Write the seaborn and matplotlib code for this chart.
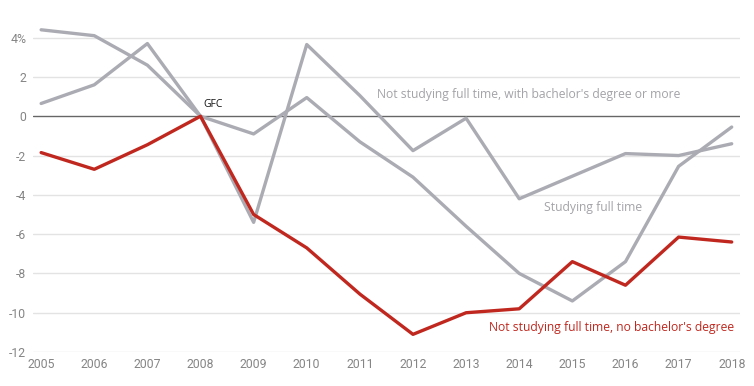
import pandas as pd
import seaborn as sns
import matplotlib.pyplot as plt

# Data (% change since 2008)
years = list(range(2005, 2019))
no_degree = [-1.85, -2.7, -1.45, 0.0, -5.0, -6.7, -9.05, -11.1, -10.0, -9.8, -7.4, -8.6, -6.15, -6.4]
with_degree = [0.65, 1.6, 3.7, 0.0, -5.4, 3.65, 1.05, -1.75, -0.1, -4.2, -3.05, -1.9, -2.0, -1.4]
studying = [4.4, 4.1, 2.6, 0.0, -0.9, 0.95, -1.3, -3.1, -5.6, -8.0, -9.4, -7.4, -2.55, -0.55]

y_ticks = [4, 2, 0, -2, -4, -6, -8, -10, -12]
y_labels = ["4%", "2", "0", "-2", "-4", "-6", "-8", "-10", "-12"]

df = pd.DataFrame({
    "year": years * 3,
    "change": with_degree + studying + no_degree,
    "group": (["Not studying full time, with bachelor's degree or more"] * len(years)
              + ["Studying full time"] * len(years)
              + ["Not studying full time, no bachelor's degree"] * len(years)),
})

sns.set_theme(style="white")
plt.rcParams['font.family'] = ['Roboto', 'DejaVu Sans']

red = "#c0281f"
grey = "#abacb3"
palette = {
    "Not studying full time, with bachelor's degree or more": grey,
    "Studying full time": grey,
    "Not studying full time, no bachelor's degree": red,
}

fig = plt.figure(figsize=(7.54, 3.86), dpi=100)
ax = fig.add_axes([0.044, 0.088, 0.937, 0.845])

# grid lines first so the series sit on top
for t in y_ticks:
    if t == 0:
        ax.axhline(0, color="#666666", lw=1.0, zorder=1)
    else:
        ax.axhline(t, color="#e3e3e3", lw=1.0, zorder=0)

sns.lineplot(data=df, x="year", y="change", hue="group", palette=palette,
             linewidth=2.4, legend=False, ax=ax, zorder=3)

ax.set_xlim(2004.85, 2018.15)
ax.set_ylim(-12, 4.6)
ax.set_xticks(years)
ax.set_xticklabels([str(y) for y in years])
ax.set_yticks(y_ticks)
ax.set_yticklabels(y_labels)
ax.tick_params(axis="both", length=0, labelsize=8.8, labelcolor="#858585", pad=4)
ax.tick_params(axis="y", pad=5)
ax.set_xlabel("")
ax.set_ylabel("")
for s in ax.spines.values():
    s.set_visible(False)

lab_font = ['Open Sans', 'DejaVu Sans']
ax.text(2011.32, 1.1, "Not studying full time, with bachelor's degree or more",
        color="#a3a3a8", fontsize=8.7, family=lab_font, va="center", ha="left")
ax.text(2014.47, -4.65, "Studying full time",
        color="#a3a3a8", fontsize=8.7, family=lab_font, va="center", ha="left")
ax.text(2013.44, -10.75, "Not studying full time, no bachelor's degree",
        color=red, fontsize=8.7, family=lab_font, va="center", ha="left")
ax.text(2008.06, 0.6, "GFC", color="#111111", fontsize=7.5, family=lab_font,
        va="center", ha="left")

fig.savefig("out.png", dpi=100)
